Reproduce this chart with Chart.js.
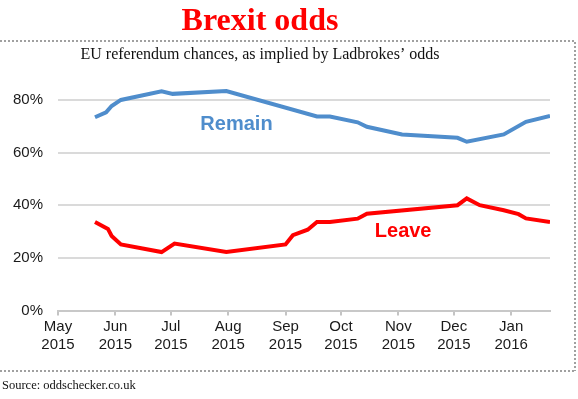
<!DOCTYPE html>
<html>
<head>
<meta charset="utf-8">
<script src="https://cdn.jsdelivr.net/npm/chart.js@4.4.1/dist/chart.umd.min.js"></script>
<style>
html,body{margin:0;padding:0;background:#fff;}
#wrap{position:relative;width:578px;height:399px;}
</style>
</head>
<body>
<div id="wrap"><canvas id="chartOdds" width="578" height="399"></canvas></div>
<script>
// data (implied chance, %)
const remainDates = ['2015-05-21','2015-05-27','2015-05-30','2015-06-04','2015-06-26','2015-07-02','2015-07-31','2015-09-18','2015-09-25','2015-10-10','2015-10-15','2015-11-03','2015-12-03','2015-12-08','2015-12-28','2016-01-09','2016-01-22'];
const remain = [73.4,75.3,77.7,80,83.3,82.3,83.4,73.7,73.7,71.5,69.8,66.9,65.6,64.1,66.9,71.7,73.9];

const leaveDates = ['2015-05-21','2015-05-28','2015-05-30','2015-06-04','2015-06-26','2015-07-03','2015-07-31','2015-09-01','2015-09-05','2015-09-13','2015-09-18','2015-09-25','2015-10-10','2015-10-15','2015-12-03','2015-12-08','2015-12-15','2015-12-28','2016-01-05','2016-01-09','2016-01-22'];
const leave = [33.6,31.0,28.3,25.1,22.2,25.4,22.2,25.1,28.6,30.7,33.6,33.6,34.9,36.8,40.0,42.6,40.0,38.1,36.6,35.0,33.6];

const monthDates = ['2015-05-01','2015-06-01','2015-07-01','2015-08-01','2015-09-01','2015-10-01','2015-11-01','2015-12-01','2016-01-01'];
const monthLabels = [['May','2015'],['Jun','2015'],['Jul','2015'],['Aug','2015'],['Sep','2015'],['Oct','2015'],['Nov','2015'],['Dec','2015'],['Jan','2016']];
const yTicks = [0,20,40,60,80];
const xStart = '2015-05-01', xEnd = '2016-01-22';

// days since start, so a plain linear scale can be used (no date adapter)
function dayOf(s){
    let p = s.split('-').map(Number);
    let p0 = xStart.split('-').map(Number);
    return (Date.UTC(p[0],p[1]-1,p[2]) - Date.UTC(p0[0],p0[1]-1,p0[2]))/86400000;
}
function toPoints(dates, vals){
    return dates.map((d,i)=>({x: dayOf(d), y: vals[i]}));
}

const BLUE = '#4f8dcc', RED = '#ff0000';

const decor = {
    id: 'decor',
    afterDraw(chart){
        const ctx = chart.ctx;
        const xs = chart.scales.x, ys = chart.scales.y;
        ctx.save();
        // dotted frame
        ctx.strokeStyle = '#a0a0a0';
        ctx.lineWidth = 2;
        ctx.setLineDash([2,2]);
        ctx.beginPath();
        ctx.moveTo(0,41); ctx.lineTo(576,41);
        ctx.moveTo(575,42); ctx.lineTo(575,371);
        ctx.moveTo(0,371); ctx.lineTo(576,371);
        ctx.stroke();
        ctx.setLineDash([]);
        // titles
        ctx.textAlign = 'center';
        ctx.textBaseline = 'alphabetic';
        ctx.fillStyle = RED;
        ctx.font = 'bold 32px "Liberation Serif", "Times New Roman", serif';
        ctx.fillText('Brexit odds', 260, 30);
        ctx.fillStyle = '#111';
        ctx.font = '16px "Liberation Serif", "Times New Roman", serif';
        ctx.fillText('EU referendum chances, as implied by Ladbrokes\u2019 odds', 260, 59);
        // series labels
        ctx.textBaseline = 'middle';
        ctx.font = 'bold 20px "Liberation Sans", Arial, sans-serif';
        ctx.fillStyle = BLUE;
        ctx.fillText('Remain', xs.getPixelForValue(96.5), ys.getPixelForValue(70.7));
        ctx.fillStyle = RED;
        ctx.fillText('Leave', xs.getPixelForValue(186.6), ys.getPixelForValue(30.2));
        // source
        ctx.textAlign = 'left';
        ctx.textBaseline = 'alphabetic';
        ctx.fillStyle = '#111';
        ctx.font = '12.5px "Liberation Serif", "Times New Roman", serif';
        ctx.fillText('Source: oddschecker.co.uk', 2, 389);
        ctx.restore();
    }
};

Chart.defaults.font.family = '"Liberation Sans", Arial, sans-serif';
Chart.defaults.font.size = 15;
Chart.defaults.color = '#1a1a1a';

let oddsChart = new Chart(document.getElementById('chartOdds'), {
    type: 'line',
    data: {
        datasets: [
        {
            label: 'Remain',
            data: toPoints(remainDates, remain),
            borderColor: BLUE,
            borderWidth: 4,
            pointRadius: 0,
            tension: 0,
            fill: false,
        },
        {
            label: 'Leave',
            data: toPoints(leaveDates, leave),
            borderColor: RED,
            borderWidth: 4,
            pointRadius: 0,
            tension: 0,
            fill: false,
        }
        ]
    },
    options: {
        responsive: false,
        animation: false,
        devicePixelRatio: 1,
        layout: { padding: { left: 0, right: 28, top: 73.6, bottom: 0 } },
        scales: {
            x: {
                type: 'linear',
                min: 0,
                max: dayOf(xEnd),
                afterBuildTicks: (axis) => { axis.ticks = monthDates.map(d => ({value: dayOf(d)})); },
                afterFit: (axis) => { axis.height = 88.5; },
                grid: {
                    drawOnChartArea: false,
                    drawTicks: true,
                    tickLength: 5,
                    tickColor: '#c4c4c4',
                    lineWidth: 2,
                },
                border: { display: true, color: '#c8c8c8', width: 2 },
                ticks: {
                    autoSkip: false,
                    maxRotation: 0,
                    padding: 2,
                    font: { size: 15, lineHeight: 1.2 },
                    callback: (v, i) => monthLabels[i],
                },
            },
            y: {
                min: 0,
                max: 90,
                afterBuildTicks: (axis) => { axis.ticks = yTicks.map(v => ({value: v})); },
                afterFit: (axis) => { axis.width = 58; },
                grid: {
                    color: (c) => c.tick && c.tick.value === 0 ? 'rgba(0,0,0,0)' : '#dadada',
                    lineWidth: 2,
                    drawTicks: false,
                },
                border: { display: false },
                ticks: {
                    padding: 15,
                    callback: (v) => v + '%',
                },
            },
        },
        plugins: {
            legend: { display: false },
            tooltip: { enabled: false },
        },
    },
    plugins: [decor],
});
</script>
</body>
</html>
